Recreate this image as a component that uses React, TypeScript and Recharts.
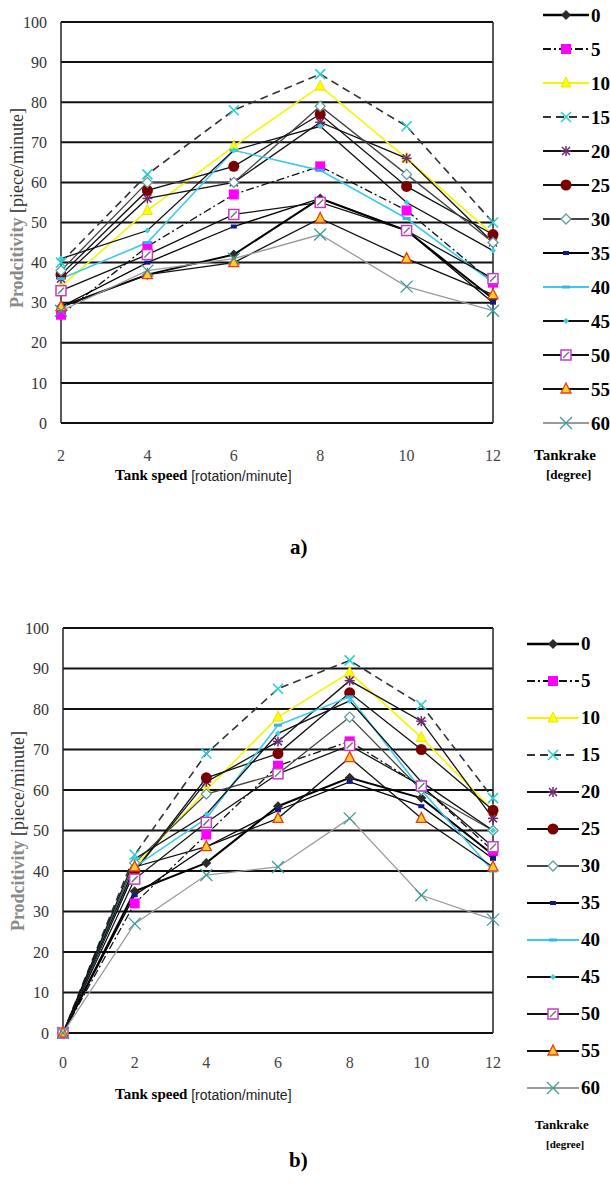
import React from 'react';
import { LineChart, Line, XAxis, YAxis, CartesianGrid, ReferenceLine } from 'recharts';

// tank speed [rotation/minute]
const SPEED_A = [2, 4, 6, 8, 10, 12];
const SPEED_B = [0, 2, 4, 6, 8, 10, 12];
const PROD_TICKS = [0, 10, 20, 30, 40, 50, 60, 70, 80, 90, 100];

// tank rake [degree]
const RAKES = [0, 5, 10, 15, 20, 25, 30, 35, 40, 45, 50, 55, 60];

// a) productivity [piece/minute], one list per rake
const A_R0 = [29, 37, 42, 56, 48, 31];
const A_R5 = [27, 44, 57, 64, 53, 35];
const A_R10 = [34, 53, 69, 84, 66, 47];
const A_R15 = [40, 62, 78, 87, 74, 50];
const A_R20 = [36, 56, 60, 75, 66, 45];
const A_R25 = [37, 58, 64, 77, 59, 47];
const A_R30 = [38, 60, 60, 79, 62, 45];
const A_R35 = [29, 40, 49, 56, 48, 30];
const A_R40 = [36, 45, 68, 63, 51, 35];
const A_R45 = [41, 48, 68, 74, 55, 43];
const A_R50 = [33, 42, 52, 55, 48, 36];
const A_R55 = [29, 37, 40, 51, 41, 32];
const A_R60 = [28, 38, 41, 47, 34, 28];

// b) productivity [piece/minute]
const B_R0 = [0, 35, 42, 56, 63, 58, 44];
const B_R5 = [0, 32, 49, 66, 72, 61, 45];
const B_R10 = [0, 41, 60, 78, 89, 73, 55];
const B_R15 = [0, 44, 69, 85, 92, 81, 58];
const B_R20 = [0, 40, 62, 72, 87, 77, 53];
const B_R25 = [0, 40, 63, 69, 84, 70, 55];
const B_R30 = [0, 42, 59, 64, 78, 60, 50];
const B_R35 = [0, 34, 46, 55, 62, 56, 43];
const B_R40 = [0, 41, 53, 76, 83, 60, 40];
const B_R45 = [0, 43, 54, 74, 82, 62, 50];
const B_R50 = [0, 38, 52, 64, 71, 61, 46];
const B_R55 = [0, 41, 46, 53, 68, 53, 41];
const B_R60 = [0, 27, 39, 41, 53, 34, 28];

const PROD_A = [A_R0, A_R5, A_R10, A_R15, A_R20, A_R25, A_R30, A_R35, A_R40, A_R45, A_R50, A_R55, A_R60];
const PROD_B = [B_R0, B_R5, B_R10, B_R15, B_R20, B_R25, B_R30, B_R35, B_R40, B_R45, B_R50, B_R55, B_R60];

type MarkerKind =
  | 'diamond' | 'square' | 'triangle' | 'cross' | 'star' | 'circle' | 'openDiamond'
  | 'navyDash' | 'cyanDash' | 'dot' | 'hatch' | 'orangeTri' | 'tealCross';

interface SeriesStyle {
  stroke: string;
  width: number;
  dash?: string;
  marker: MarkerKind;
}

const STYLES: SeriesStyle[] = [
  { stroke: '#000', width: 2, marker: 'diamond' },
  { stroke: '#111', width: 1.3, dash: '8 3 2 3', marker: 'square' },
  { stroke: '#f5f500', width: 1.6, marker: 'triangle' },
  { stroke: '#333', width: 1.6, dash: '8 5', marker: 'cross' },
  { stroke: '#111', width: 1.3, marker: 'star' },
  { stroke: '#111', width: 1.3, marker: 'circle' },
  { stroke: '#444', width: 1.3, marker: 'openDiamond' },
  { stroke: '#000', width: 1.3, marker: 'navyDash' },
  { stroke: '#3cc8f0', width: 1.6, marker: 'cyanDash' },
  { stroke: '#111', width: 1.3, marker: 'dot' },
  { stroke: '#111', width: 1.3, marker: 'hatch' },
  { stroke: '#111', width: 1.3, marker: 'orangeTri' },
  { stroke: '#9a9a9a', width: 1.3, marker: 'tealCross' },
];

function Marker({ kind, cx, cy }: { kind: MarkerKind; cx: number; cy: number }) {
  switch (kind) {
    case 'diamond':
      return <polygon points={`${cx},${cy - 5} ${cx + 5},${cy} ${cx},${cy + 5} ${cx - 5},${cy}`} fill="#2b2b2b" />;
    case 'square':
      return <rect x={cx - 5} y={cy - 5} width={10} height={10} fill="#ff00ff" />;
    case 'triangle':
      return <polygon points={`${cx},${cy - 6} ${cx + 5},${cy + 4} ${cx - 5},${cy + 4}`} fill="#ffff00" stroke="#e6d800" strokeWidth={0.8} />;
    case 'cross':
      return (
        <g stroke="#2ccfd6" strokeWidth={1.6}>
          <line x1={cx - 5} y1={cy - 5} x2={cx + 5} y2={cy + 5} />
          <line x1={cx - 5} y1={cy + 5} x2={cx + 5} y2={cy - 5} />
        </g>
      );
    case 'star':
      return (
        <g stroke="#6b2c6b" strokeWidth={1.5}>
          <line x1={cx - 4} y1={cy - 4} x2={cx + 4} y2={cy + 4} />
          <line x1={cx - 4} y1={cy + 4} x2={cx + 4} y2={cy - 4} />
          <line x1={cx} y1={cy - 5} x2={cx} y2={cy + 5} />
          <line x1={cx - 5} y1={cy} x2={cx + 5} y2={cy} />
        </g>
      );
    case 'circle':
      return <circle cx={cx} cy={cy} r={5.5} fill="#7a0000" />;
    case 'openDiamond':
      return <polygon points={`${cx},${cy - 5} ${cx + 5},${cy} ${cx},${cy + 5} ${cx - 5},${cy}`} fill="#fff" stroke="#5e9ea0" strokeWidth={1.3} />;
    case 'navyDash':
      return <rect x={cx - 3} y={cy - 2} width={6} height={4} fill="#0a1a8a" />;
    case 'cyanDash':
      return <rect x={cx - 4} y={cy - 1.5} width={8} height={3} fill="#2fb8e8" />;
    case 'dot':
      return <polygon points={`${cx},${cy - 3} ${cx + 3},${cy} ${cx},${cy + 3} ${cx - 3},${cy}`} fill="#3ad0e0" />;
    case 'hatch':
      return (
        <g>
          <rect x={cx - 5} y={cy - 5} width={10} height={10} fill="#fff" stroke="#c23cc2" strokeWidth={1.5} />
          <line x1={cx - 3} y1={cy + 3} x2={cx + 3} y2={cy - 3} stroke="#777" strokeWidth={1.5} />
        </g>
      );
    case 'orangeTri':
      return <polygon points={`${cx},${cy - 6} ${cx + 5},${cy + 4} ${cx - 5},${cy + 4}`} fill="#ffcc33" stroke="#e8400c" strokeWidth={1.3} />;
    case 'tealCross':
      return (
        <g stroke="#3a9c9c" strokeWidth={1.3}>
          <line x1={cx - 6} y1={cy - 6} x2={cx + 6} y2={cy + 6} />
          <line x1={cx - 6} y1={cy + 6} x2={cx + 6} y2={cy - 6} />
        </g>
      );
  }
  return null;
}

const serif = '"Liberation Serif", "DejaVu Serif", serif';
const sans = '"Liberation Sans", Arial, sans-serif';

function RakeLegend({ left, top, row, lineW, fontSize }: { left: number; top: number; row: number; lineW: number; fontSize: number }) {
  return (
    <div style={{ position: 'absolute', left, top, fontFamily: serif, fontWeight: 'bold', fontSize, color: '#000' }}>
      {RAKES.map((r, k) => {
        const st = STYLES[k];
        return (
          <div key={r} style={{ display: 'flex', alignItems: 'center', height: row, whiteSpace: 'nowrap' }}>
            <svg width={lineW} height={16} style={{ display: 'block' }}>
              <line x1={0} y1={8} x2={lineW} y2={8} stroke={st.stroke} strokeWidth={st.width + 0.6} strokeDasharray={st.dash} />
              <Marker kind={st.marker} cx={lineW / 2} cy={8} />
            </svg>
            <span style={{ marginLeft: 2, lineHeight: 1 }}>{r}</span>
          </div>
        );
      })}
    </div>
  );
}

interface PanelProps {
  speeds: number[];
  prods: number[][];
  top: number;
  height: number;
  marginTop: number;
  axisWidth: number;
  xAxisHeight: number;
  rightMargin: number;
  tickDy: number;
  yTitle: { x: number; y: number };
  xTitle: { x: number; y: number };
}

function Panel({ speeds, prods, top, height, marginTop, axisWidth, xAxisHeight, rightMargin, tickDy, yTitle, xTitle }: PanelProps) {
  const data = speeds.map((s, i) => {
    const row: Record<string, number> = { speed: s };
    RAKES.forEach((r, k) => {
      row[`r${r}`] = prods[k][i];
    });
    return row;
  });

  return (
    <div style={{ position: 'absolute', left: 0, top, width: 610, height }}>
      <LineChart width={610} height={height} data={data} margin={{ top: marginTop, right: rightMargin, left: 0, bottom: 0 }}>
        <CartesianGrid vertical={false} stroke="#111" strokeWidth={2} />
        <XAxis
          dataKey="speed"
          type="number"
          domain={[speeds[0], speeds[speeds.length - 1]]}
          ticks={speeds}
          height={xAxisHeight}
          axisLine={false}
          tickLine={false}
          tickSize={0}
          tick={{ fontFamily: serif, fontSize: 16, fill: '#444', dy: tickDy }}
          label={{
            content: () => (
              <text x={xTitle.x} y={xTitle.y} dominantBaseline="middle">
                <tspan fontFamily={serif} fontWeight="bold" fontSize={15} fill="#000">Tank speed </tspan>
                <tspan fontFamily={sans} fontSize={14} fill="#222">[rotation/minute]</tspan>
              </text>
            ),
          }}
        />
        <YAxis
          domain={[0, 100]}
          ticks={PROD_TICKS}
          width={axisWidth}
          axisLine={{ stroke: '#222', strokeWidth: 1.5 }}
          tickLine={false}
          tickSize={0}
          tickMargin={14}
          tick={{ fontFamily: serif, fontSize: 16, fill: '#333' }}
          label={{
            content: () => (
              <text
                x={yTitle.x}
                y={yTitle.y}
                textAnchor="middle"
                dominantBaseline="middle"
                transform={`rotate(-90 ${yTitle.x} ${yTitle.y})`}
              >
                <tspan fontFamily={serif} fontWeight="bold" fontSize={18} fill="#8a8a8a">Prodcitivity </tspan>
                <tspan fontFamily={serif} fontSize={18} fill="#333"> [piece/minute]</tspan>
              </text>
            ),
          }}
        />
        <ReferenceLine x={speeds[speeds.length - 1]} stroke="#222" strokeWidth={1.5} />
        {RAKES.map((r, k) => {
          const st = STYLES[k];
          return (
            <Line
              key={r}
              dataKey={`r${r}`}
              name={String(r)}
              stroke={st.stroke}
              strokeWidth={st.width}
              strokeDasharray={st.dash}
              isAnimationActive={false}
              dot={(p: any) => (
                <g key={`d${r}-${p.index}`}>
                  <Marker kind={st.marker} cx={p.cx} cy={p.cy} />
                </g>
              )}
              activeDot={false}
            />
          );
        })}
      </LineChart>
    </div>
  );
}

export default function App() {
  return (
    <div style={{ position: 'absolute', left: 0, top: 0, width: 610, height: 1193, background: '#fff', overflow: 'hidden' }}>
      <Panel
        speeds={SPEED_A}
        prods={PROD_A}
        top={0}
        height={500}
        marginTop={22}
        axisWidth={61}
        xAxisHeight={77}
        rightMargin={117}
        tickDy={25}
        yTitle={{ x: 19, y: 208 }}
        xTitle={{ x: 115, y: 477 }}
      />
      <RakeLegend left={543} top={-2} row={34} lineW={46} fontSize={19} />
      <div style={{ position: 'absolute', left: 534, top: 447, fontFamily: serif, fontWeight: 'bold', fontSize: 15, whiteSpace: 'nowrap' }}>Tankrake</div>
      <div style={{ position: 'absolute', left: 546, top: 467, fontFamily: serif, fontWeight: 'bold', fontSize: 13, whiteSpace: 'nowrap' }}>[degree]</div>
      <div style={{ position: 'absolute', left: 290, top: 535, fontFamily: serif, fontWeight: 'bold', fontSize: 21 }}>a)</div>

      <Panel
        speeds={SPEED_B}
        prods={PROD_B}
        top={600}
        height={520}
        marginTop={28}
        axisWidth={63}
        xAxisHeight={87}
        rightMargin={117}
        tickDy={22}
        yTitle={{ x: 20, y: 231 }}
        xTitle={{ x: 115, y: 496 }}
      />
      <RakeLegend left={527} top={625} row={37} lineW={52} fontSize={19} />
      <div style={{ position: 'absolute', left: 535, top: 1117, fontFamily: serif, fontWeight: 'bold', fontSize: 13, whiteSpace: 'nowrap' }}>Tankrake</div>
      <div style={{ position: 'absolute', left: 546, top: 1138, fontFamily: serif, fontWeight: 'bold', fontSize: 11, whiteSpace: 'nowrap' }}>[degree]</div>
      <div style={{ position: 'absolute', left: 289, top: 1148, fontFamily: serif, fontWeight: 'bold', fontSize: 21 }}>b)</div>
    </div>
  );
}
